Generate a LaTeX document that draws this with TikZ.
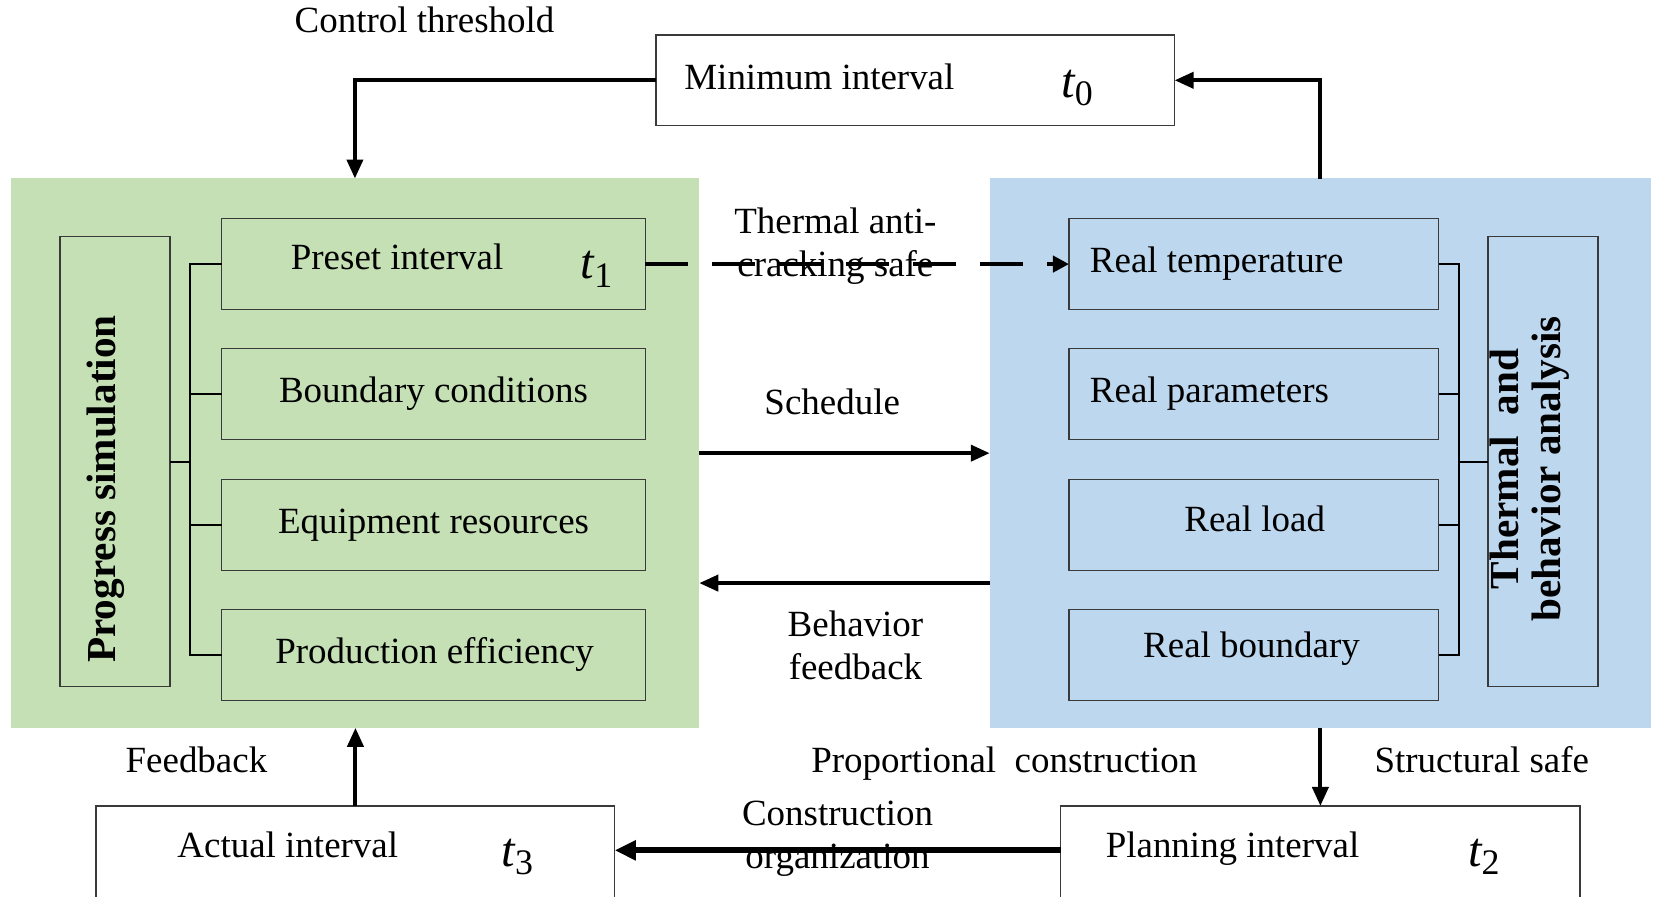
\documentclass[tikz,border=0pt]{standalone}
\usepackage{fontspec}
\setmainfont{Liberation Serif}
\usetikzlibrary{arrows.meta}
\definecolor{pgreen}{HTML}{C5E0B4}
\definecolor{pblue}{HTML}{BDD7EE}
\definecolor{bgray}{HTML}{3A3A3A}
\newcommand{\tvar}[1]{{\fontsize{23}{23}\selectfont\itshape t}{\fontsize{17}{17}\selectfont\raisebox{-4pt}{#1}}}
\begin{document}
\begin{tikzpicture}[x=0.5pt,y=-0.5pt, scale=1.056, every node/.style={transform shape},
  txt/.style={font=\fontsize{17.5}{20.5}\selectfont, inner sep=0pt, outer sep=0pt},
  panel/.style={draw=none, inner sep=0pt, outer sep=0pt},
  itembox/.style={draw=bgray, line width=0.7pt, inner sep=0pt, outer sep=0pt, minimum height=43pt},
  sidebox/.style={draw=bgray, line width=0.7pt, inner sep=0pt, outer sep=0pt, minimum width=52pt, minimum height=213pt},
  whitebox/.style={draw=bgray, line width=0.7pt, fill=white, inner sep=0pt, outer sep=0pt, minimum width=245.5pt},
  bline/.style={line width=1pt, black},
  arr/.style={line width=2pt, -{Triangle[length=9.5pt,width=8pt]}},
  arrthick/.style={line width=3pt, -{Triangle[length=10.5pt,width=9.5pt]}},
  darr/.style={line width=2pt, dash pattern=on 21.5pt off 12pt, -{Triangle[length=8pt,width=8pt]}}
]
\useasboundingbox (0,0) rectangle (1568,849);
\clip (0,0) rectangle (1568,849);
\fill[white] (0,0) rectangle (1568,849);
\coordinate (ybf) at (0,552);
\coordinate (yco) at (0,805);

% panels
\node[panel, fill=pgreen, minimum width=326pt, minimum height=260pt] (G) at (336,429) {};
\node[panel, fill=pblue, minimum width=313pt, minimum height=260pt] (B) at (1250,429) {};

% top box
\node[whitebox, minimum height=43pt] (M) at (866.5,76) {};
\node[txt, anchor=base west] (Mt) at (648,85) {Minimum interval};
\node[txt, anchor=base west] (Mv) at (1005,92) {\tvar{0}};
\node[txt, anchor=base] (ct) at (402,31) {Control threshold};

% bottom boxes
\node[whitebox, minimum height=100pt] (A) at (336.5,863) {};
\node[whitebox, minimum width=246pt, minimum height=100pt] (Pl) at (1250,863) {};
\node[txt, anchor=base west] (At) at (168,812) {Actual interval};
\node[txt, anchor=base west] (Av) at (475,820) {\tvar{3}};
\node[txt, anchor=base west] (Pt) at (1047,812) {Planning interval};
\node[txt, anchor=base west] (Pv) at (1390,820) {\tvar{2}};

% green items
\node[itembox, minimum width=200.5pt] (g1) at (410.5,250) {};
\node[itembox, minimum width=200.5pt] (g2) at (410.5,373) {};
\node[itembox, minimum width=200.5pt] (g3) at (410.5,497) {};
\node[itembox, minimum width=200.5pt] (g4) at (410.5,620) {};
\node[txt, anchor=base] (g1t) at (376,255) {Preset interval};
\node[txt, anchor=base west] (g1v) at (550,264) {\tvar{1}};
\node[txt, anchor=base] (g2t) at (410.5,381) {Boundary conditions};
\node[txt, anchor=base] (g3t) at (410.5,505) {Equipment resources};
\node[txt, anchor=base] (g4t) at (411.5,628) {Production efficiency};
\node[sidebox] (PS) at (109,437) {};
\node[txt, rotate=90, font=\fontsize{19.5}{22}\selectfont\bfseries] (PSt) at (100,463) {Progress simulation};

% green bracket
\draw[bline] (g1.west) -- ++(-30,0) |- (g4.west);
\draw[bline] (g2.west) -- ++(-30,0);
\draw[bline] (g3.west) -- ++(-30,0);
\draw[bline] (PS.east) -- ++(19,0);

% blue items
\node[itembox, minimum width=175pt] (b1) at (1187,250) {};
\node[itembox, minimum width=175pt] (b2) at (1187,373) {};
\node[itembox, minimum width=175pt] (b3) at (1187,497) {};
\node[itembox, minimum width=175pt] (b4) at (1187,620) {};
\node[txt, anchor=base west] (b1t) at (1032,258) {Real temperature};
\node[txt, anchor=base west] (b2t) at (1032,381) {Real parameters};
\node[txt, anchor=base] (b3t) at (1188,503) {Real load};
\node[txt, anchor=base] (b4t) at (1185,623) {Real boundary};
\node[sidebox] (TB) at (1461,437) {};
\node[txt, rotate=90, align=center, font=\fontsize{19.5}{20}\selectfont\bfseries] (TBt) at (1448,444) {Thermal~~and\\behavior analysis};

% blue bracket
\draw[bline] (b1.east) -- ++(19,0) |- (b4.east);
\draw[bline] (b2.east) -- ++(19,0);
\draw[bline] (b3.east) -- ++(19,0);
\draw[bline] (TB.west) -- ++(-28,0);

% middle connectors
\node[txt, align=center] (tac) at (791,233) {Thermal anti-\\cracking safe};
\draw[darr] (g1.east) -- (b1.west);
\draw[arr] (G.east) -- (B.west);
\node[txt, anchor=base] (sch) at (788,392) {Schedule};
\draw[arr] (B.west |- ybf) -- (G.east |- ybf);
\node[txt, align=center] (bf) at (810,611) {Behavior\\feedback};

% outer connectors
\draw[arr] (M.west) -| (G.north);
\draw[arr] (B.north) |- (M.east);
\draw[arr] (A.north) -- (A.north |- G.south);
\node[txt, anchor=base] (fb) at (186,731) {Feedback};
\draw[arr] (B.south) -- (B.south |- Pl.north);
\node[txt, anchor=base] (ss) at (1403,731) {Structural safe};
\node[txt, anchor=base] (pc) at (951,731) {Proportional~~construction};
\draw[arrthick] (Pl.west |- yco) -- (A.east |- yco);
\node[txt, align=center] (co) at (793,794) {Construction\\organization};
\end{tikzpicture}
\end{document}
